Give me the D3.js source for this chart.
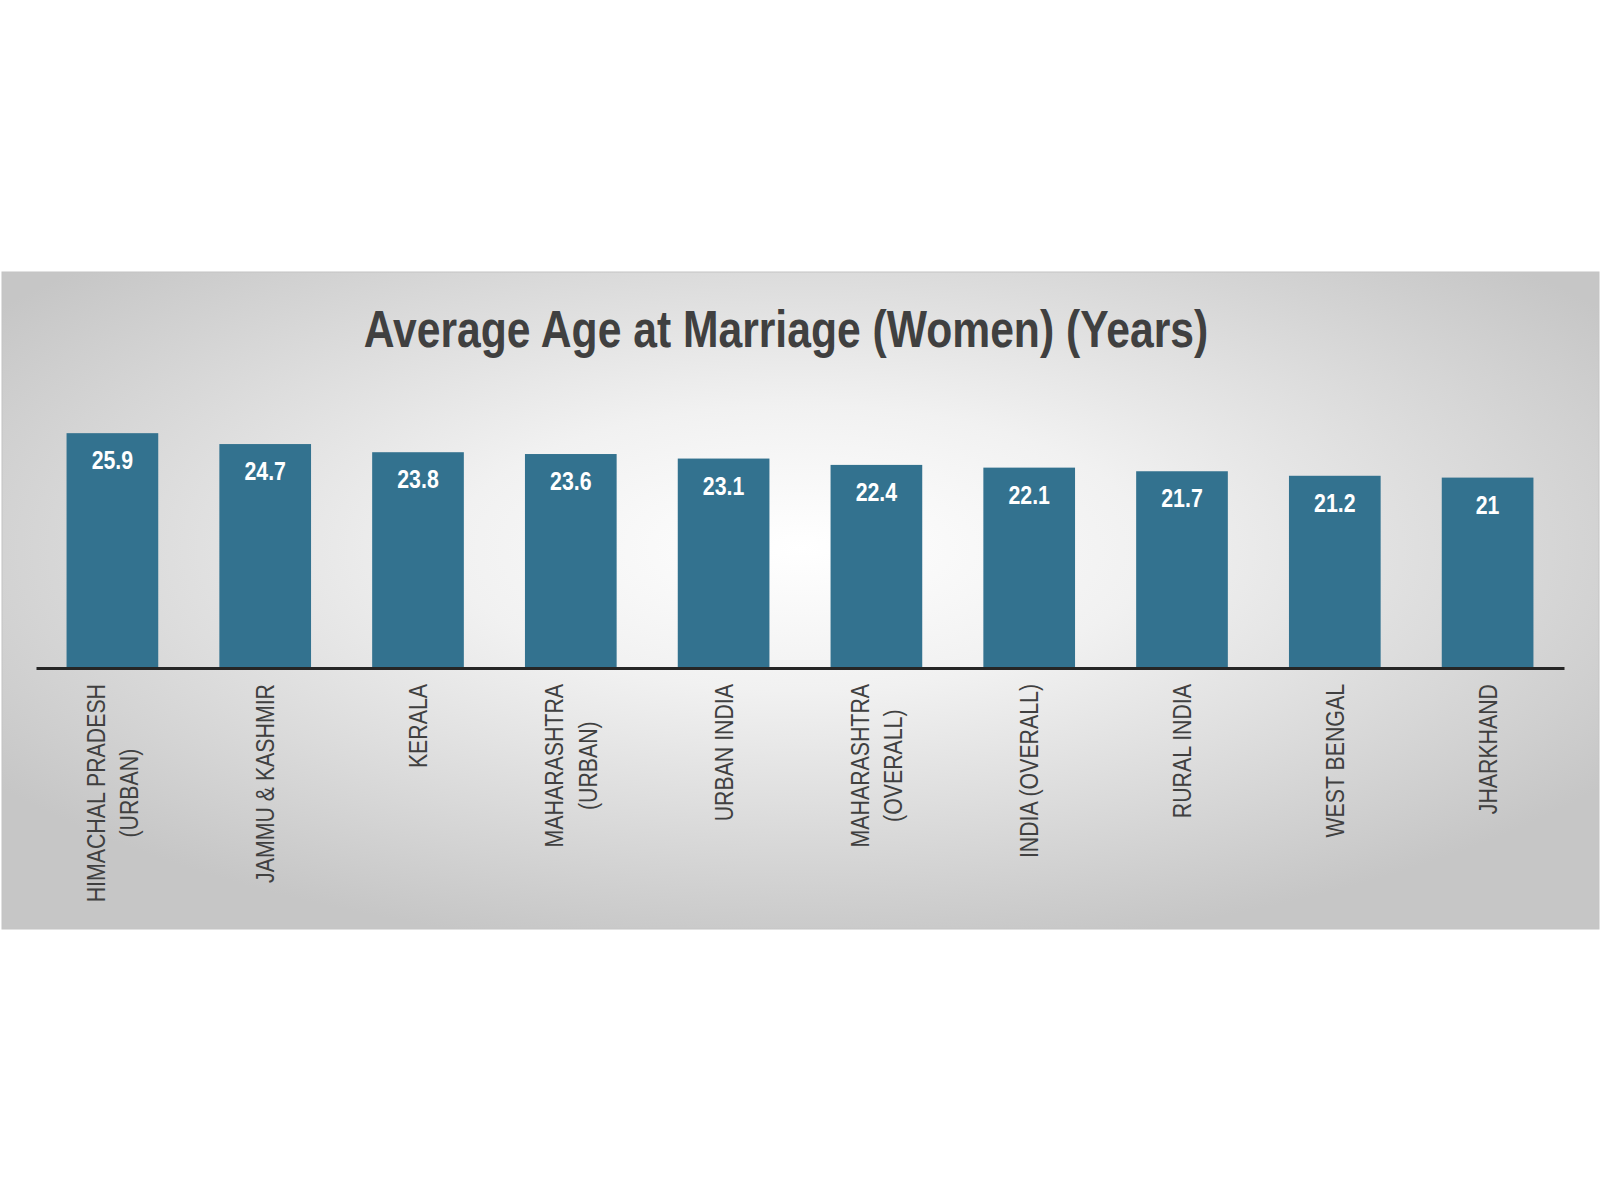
<!DOCTYPE html>
<html>
<head>
<meta charset="utf-8">
<script src="https://cdn.jsdelivr.net/npm/d3@7"></script>
<style>
  body { margin: 0; background: #ffffff; }
  svg { display: block; }
</style>
</head>
<body>
<div class="chart"></div>
<script>
// chart data
const categories = [
    "HIMACHAL PRADESH\n(URBAN)",
    "JAMMU & KASHMIR",
    "KERALA",
    "MAHARASHTRA\n(URBAN)",
    "URBAN INDIA",
    "MAHARASHTRA\n(OVERALL)",
    "INDIA (OVERALL)",
    "RURAL INDIA",
    "WEST BENGAL",
    "JHARKHAND"
];
const values = [25.9, 24.7, 23.8, 23.6, 23.1, 22.4, 22.1, 21.7, 21.2, 21];
const valueLabels = ["25.9", "24.7", "23.8", "23.6", "23.1", "22.4", "22.1", "21.7", "21.2", "21"];
const title = "Average Age at Marriage (Women) (Years)";

const W = 1600, H = 1200;
const panel = { x: 2, y: 272, w: 1597, h: 657 };
const plot = { left: 36, right: 1564, top: 396, bottom: 668 };
// no narrow face installed, so squeeze Liberation Sans horizontally instead
const font = "'Liberation Sans', Arial, sans-serif";
const squeeze = 0.82;

const svg = d3.select(".chart")
    .append("svg")
    .attr("width", W)
    .attr("height", H);

// background gradient for the chart area
const defs = svg.append("defs");
const grad = defs.append("radialGradient")
    .attr("id", "bg")
    .attr("cx", "50%").attr("cy", "42%")
    .attr("r", "62%");
grad.append("stop").attr("offset", "0%").attr("stop-color", "#ffffff");
grad.append("stop").attr("offset", "35%").attr("stop-color", "#f1f1f1");
grad.append("stop").attr("offset", "100%").attr("stop-color", "#c6c6c6");

svg.append("rect")
    .attr("x", panel.x).attr("y", panel.y)
    .attr("width", panel.w).attr("height", panel.h)
    .attr("fill", "url(#bg)")
    .attr("stroke", "#c4c4c4")
    .attr("stroke-width", 1);

// title
svg.append("text")
    .attr("transform", `translate(786,347) scale(${squeeze},1)`)
    .attr("text-anchor", "middle")
    .style("font-family", font)
    .style("font-weight", "bold")
    .style("font-size", "52px")
    .style("fill", "#404040")
    .text(title);

// scales
const x = d3.scaleBand()
    .domain(categories)
    .range([plot.left, plot.right])
    .paddingInner(0.4)
    .paddingOuter(0.2);

const y = d3.scaleLinear()
    .domain([0, 30])
    .range([plot.bottom, plot.top]);

// bars
svg.selectAll(".bar")
    .data(values)
    .enter().append("rect")
    .attr("class", "bar")
    .attr("x", (d, i) => x(categories[i]))
    .attr("y", d => y(d))
    .attr("width", x.bandwidth())
    .attr("height", d => y(0) - y(d))
    .style("fill", "#33728f");

// value labels inside the top of bars
svg.selectAll(".val")
    .data(values)
    .enter().append("text")
    .attr("class", "val")
    .attr("transform", (d, i) =>
        `translate(${x(categories[i]) + x.bandwidth() / 2},${y(d) + 36}) scale(${squeeze},1)`)
    .attr("text-anchor", "middle")
    .style("font-family", font)
    .style("font-weight", "bold")
    .style("font-size", "26px")
    .style("fill", "#ffffff")
    .text((d, i) => valueLabels[i]);

// x axis line
const xAxis = svg.append("g")
    .attr("transform", `translate(0,${plot.bottom})`)
    .call(d3.axisBottom(x).tickSize(0).tickFormat(""));
xAxis.select(".domain")
    .attr("stroke", "#262626")
    .attr("stroke-width", 3);

// rotated category labels, block anchored just below the axis
const labelTop = plot.bottom + 16;
const lineGap = 34;
categories.forEach(cat => {
    const lines = cat.split("\n");
    const cx = x(cat) + x.bandwidth() / 2;
    const g = svg.append("g")
        .attr("transform", `translate(${cx},${labelTop}) rotate(-90) scale(${squeeze},1)`);
    const texts = lines.map((ln, j) => g.append("text")
        .attr("y", (j - (lines.length - 1) / 2) * lineGap)
        .attr("dy", "0.35em")
        .style("font-family", font)
        .style("font-size", "26px")
        .style("fill", "#404040")
        .text(ln));
    const maxLen = d3.max(texts, t => t.node().getComputedTextLength());
    texts.forEach(t => t.attr("x", -maxLen / 2).attr("text-anchor", "middle"));
});
</script>
</body>
</html>
